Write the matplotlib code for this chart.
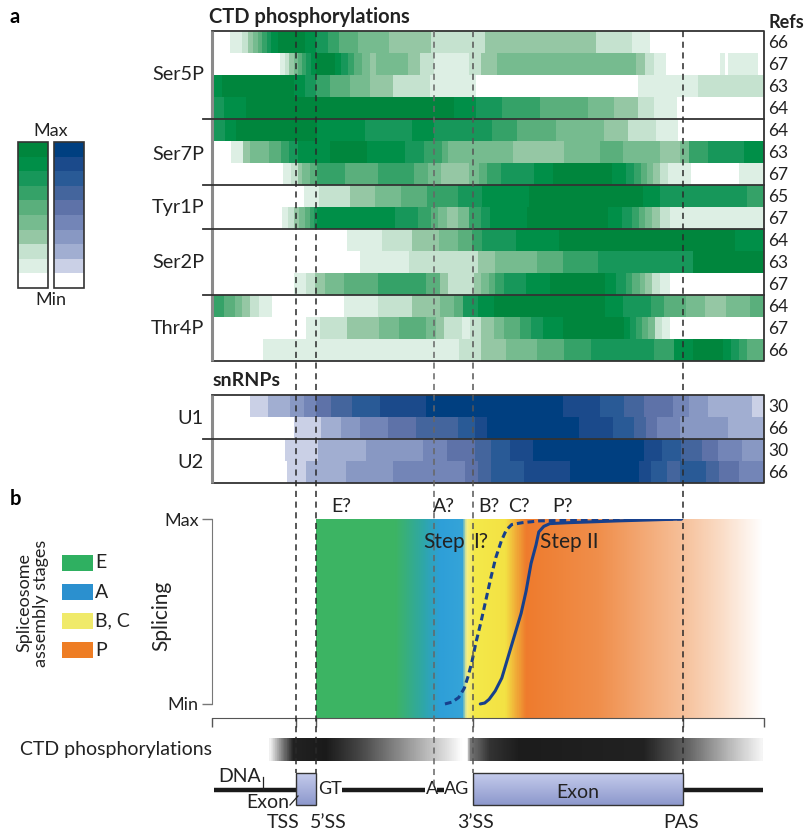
import numpy as np
import matplotlib
matplotlib.use('Agg')
import matplotlib.pyplot as plt
from matplotlib.colors import ListedColormap, LinearSegmentedColormap
from matplotlib.patches import Rectangle

plt.rcParams['font.family'] = ['Lato', 'DejaVu Sans']

W, H = 807, 831
X0, X1 = 212, 764
S = (X1 - X0) / 100.0


def P(x):
    # pixel column -> gene position (0..100 over the heat map width)
    return (x - X0) / S


# ---- landmarks along the gene (0..100)
TSS, SS5, BRANCH_A, SS3, PAS = 15.2, 18.9, 40.2, 47.2, 85.3

# ---- CTD phosphorylation rows (edges along the gene, level 0..9)
ser5p_66_e = [0, 3.2, 5.4, 6.6, 7.4, 8.3, 9.0, 9.9, 10.6, 11.9, 16.8, 18.9, 21.0, 23.0, 26.5, 32.1, 39.7, 49.4, 69.5, 76.1, 79.4, 100]
ser5p_66_l = [0, 1, 2, 3, 4, 5, 6, 7, 8, 9, 8, 7, 6, 5, 4, 3, 2, 3, 2, 1, 0]
ser5p_67_e = [0, 12.3, 13.2, 14.0, 14.8, 15.5, 16.3, 17.1, 17.9, 18.9, 22.3, 23.4, 24.7, 25.7, 27.1, 28.7, 29.7, 35.5, 37.7, 40.2,
              46.6, 48.8, 51.6, 76.8, 78.5, 80.1, 82.3, 92.1, 93.0, 93.5, 99.0, 100]
ser5p_67_l = [0, 1, 2, 3, 4, 5, 6, 7, 8, 9, 8, 7, 6, 5, 4, 3, 4, 3, 2, 1, 2, 3, 4, 3, 2, 1, 0, 1, 0, 1, 0]
ser5p_63_e = [0, 1.9, 14.8, 16.8, 18.9, 21.4, 25.0, 28.6, 32.8, 39.5, 47.8, 77.1, 88.1, 100]
ser5p_63_l = [8, 9, 8, 7, 6, 5, 4, 3, 2, 1, 0, 1, 2]
ser5p_64_e = [0, 2.1, 6.1, 43.9, 47.8, 52.6, 59.5, 68.2, 72.8, 77.1, 80.0, 84.2, 100]
ser5p_64_l = [7, 8, 9, 8, 7, 6, 5, 4, 3, 2, 1, 0]

ser7p_64_e = [0, 2.3, 4.4, 19.0, 27.7, 36.3, 40.2, 50.8, 55.3, 62.3, 71.0, 75.4, 80.5, 84.4, 100]
ser7p_64_l = [7, 8, 9, 8, 7, 8, 7, 6, 5, 4, 3, 2, 1, 0]
ser7p_63_e = [0, 3.5, 5.7, 6.8, 10.3, 12.5, 13.9, 15.5, 21.3, 28.1, 35.0, 38.4, 41.6, 42.8, 54.6, 63.7, 70.3, 74.5, 81.1, 84.8,
              86.5, 89.8, 96.3, 100]
ser7p_63_l = [0, 1, 3, 4, 5, 6, 7, 8, 9, 8, 7, 6, 5, 4, 3, 4, 5, 4, 3, 4, 6, 7, 8]
ser7p_67_e = [0, 12.8, 14.4, 15.5, 16.3, 17.7, 19.0, 24.1, 30.0, 36.6, 39.2, 41.5, 46.6, 48.3, 49.9, 52.3, 58.4, 61.8, 72.4, 75.0,
              76.5, 77.7, 78.8, 79.9, 81.1, 82.6, 86.8, 95.5, 100]
ser7p_67_l = [0, 1, 2, 3, 4, 5, 6, 5, 6, 5, 4, 3, 4, 5, 6, 7, 8, 9, 8, 7, 6, 5, 4, 3, 2, 1, 0, 1]

tyr1p_65_e = [0, 16.6, 19.4, 25.0, 29.5, 34.3, 39.0, 44.6, 49.0, 57.5, 78.1, 81.1, 97.0, 100]
tyr1p_65_l = [0, 1, 2, 3, 4, 5, 6, 7, 8, 9, 8, 7, 6]
tyr1p_67_e = [0, 12.6, 13.7, 14.8, 15.8, 16.8, 17.7, 18.5, 19.0, 33.1, 37.3, 39.7, 41.0, 42.5, 44.6, 46.5, 48.8, 50.3, 57.0, 71.7,
              74.2, 76.0, 77.3, 78.4, 79.8, 81.1, 83.0, 100]
tyr1p_67_l = [0, 1, 2, 3, 4, 5, 6, 7, 8, 7, 6, 5, 4, 3, 4, 6, 7, 8, 9, 8, 7, 6, 5, 4, 3, 2, 1]

ser2p_64_e = [0, 24.5, 30.8, 36.3, 41.2, 44.5, 47.1, 49.0, 55.0, 62.9, 94.8, 100]
ser2p_64_l = [0, 1, 2, 3, 4, 5, 6, 7, 8, 9, 8]
ser2p_63_e = [0, 26.8, 35.7, 48.1, 51.3, 58.9, 63.5, 70.0, 87.1, 100]
ser2p_63_l = [0, 1, 2, 3, 4, 5, 6, 7, 9]
ser2p_67_e = [0, 14.8, 17.1, 18.7, 20.5, 23.9, 30.0, 38.7, 41.3, 42.8, 47.4, 48.7, 50.1, 51.3, 52.9, 56.8, 61.3, 71.2, 73.2, 75.0,
              76.0, 77.6, 78.5, 79.7, 81.1, 83.0, 100]
ser2p_67_l = [0, 1, 2, 3, 4, 5, 6, 5, 3, 2, 3, 4, 5, 6, 7, 8, 9, 8, 7, 6, 5, 4, 3, 2, 1, 0]

thr4p_64_e = [0, 2.1, 4.2, 5.5, 6.8, 8.6, 10.8, 23.9, 30.0, 36.3, 41.3, 43.9, 45.4, 48.2, 51.0, 71.2, 74.5, 79.5, 81.9, 85.9,
              89.4, 93.2, 97.4, 100]
thr4p_64_l = [6, 5, 4, 3, 2, 1, 0, 1, 2, 3, 4, 5, 7, 8, 9, 8, 7, 6, 5, 4, 3, 4, 5]
thr4p_67_e = [0, 17.0, 19.5, 24.5, 30.3, 33.9, 38.7, 40.6, 42.1, 45.2, 46.8, 48.8, 51.0, 52.9, 55.8, 57.7, 60.0, 63.5, 74.6, 75.8,
              76.9, 77.9, 78.9, 80.2, 81.5, 82.9, 100]
thr4p_67_l = [0, 1, 2, 3, 4, 5, 4, 3, 2, 1, 2, 3, 4, 5, 6, 7, 8, 9, 8, 7, 6, 5, 4, 2, 1, 0]
thr4p_66_e = [0, 9.2, 44.8, 48.8, 53.2, 58.9, 63.7, 68.7, 80.0, 83.7, 87.1, 92.6, 94.0, 95.5, 97.0, 100]
thr4p_66_l = [0, 1, 2, 3, 4, 5, 6, 7, 6, 8, 9, 8, 7, 6, 5]

ctd_groups = ['Ser5P', 'Ser7P', 'Tyr1P', 'Ser2P', 'Thr4P']
ctd_group_rows = [4, 3, 2, 3, 3]
ctd_refs = ['66', '67', '63', '64', '64', '63', '67', '65', '67', '64', '63', '67', '64', '67', '66']

# ---- snRNP rows
u1_30_e = [0, 6.8, 10.1, 14.2, 16.6, 18.9, 21.5, 25.4, 30.5, 38.7, 63.5, 70.2, 74.6, 78.3, 83.5, 86.5, 89.9, 97.9, 100]
u1_30_l = [0, 1, 2, 3, 4, 5, 6, 7, 8, 9, 8, 7, 6, 5, 4, 3, 2, 1]
u1_66_e = [0, 14.8, 19.7, 23.4, 26.8, 31.8, 37.0, 44.6, 47.7, 49.9, 66.5, 72.6, 76.5, 78.7, 80.6, 84.7, 93.4, 100]
u1_66_l = [0, 1, 2, 3, 4, 5, 6, 7, 8, 9, 8, 7, 6, 5, 4, 3, 2]
u2_30_e = [0, 13.2, 19.2, 27.9, 38.3, 42.5, 47.7, 50.5, 53.9, 58.1, 78.3, 81.5, 85.0, 88.8, 91.7, 96.1, 100]
u2_30_l = [0, 1, 2, 3, 4, 5, 6, 7, 8, 9, 8, 7, 6, 5, 4, 3]
u2_66_e = [0, 13.5, 17.1, 24.2, 32.8, 45.8, 48.2, 50.5, 56.5, 64.8, 77.4, 79.5, 82.5, 84.8, 89.5, 91.9, 95.4, 100]
u2_66_l = [0, 1, 2, 3, 4, 5, 6, 7, 8, 9, 8, 7, 6, 7, 6, 5, 4]

snrnp_groups = ['U1', 'U2']
snrnp_group_rows = [2, 2]
snrnp_refs = ['30', '66', '30', '66']

# ---- splicing curves (gene position, fraction between Min and Max)
step1_x = [42.2, 43.5, 44.7, 45.7, 46.4, 47.1, 47.8, 48.7, 49.6, 50.5, 51.4, 52.4, 53.3, 54.3, 56.2, 59.4, 70.3, 85.1]
step1_y = [0.0, 0.01, 0.035, 0.085, 0.15, 0.23, 0.33, 0.44, 0.56, 0.68, 0.79, 0.88, 0.94, 0.97, 0.98, 0.99, 0.995, 1.0]
step2_x = [48.6, 49.4, 50.2, 51.3, 52.5, 53.6, 54.9, 56.0, 56.9, 57.8, 58.7, 59.2, 60.1, 61.2, 64.5, 73.7, 85.1]
step2_y = [0.0, 0.005, 0.025, 0.07, 0.14, 0.25, 0.38, 0.49, 0.61, 0.76, 0.86, 0.93, 0.96, 0.975, 0.98, 0.99, 1.0]

stage_names = ['E', 'A', 'B, C', 'P']
stage_colors = ['#2fb061', '#2b90cf', '#f0ea6a', '#ee7d24']

# ---- colours
green_levels = ['#ffffff', '#ddefe4', '#c5e2cf', '#95c7a4', '#76bb8f', '#5aaf7c', '#35a268', '#17975a', '#008f48', '#00863d']
blue_levels = ['#ffffff', '#cad0e6', '#a1aed1', '#8898c3', '#7385b7', '#5e72a8', '#44659d', '#295a96', '#1b4a8b', '#003f80']
green_cmap = ListedColormap(green_levels)
blue_cmap = ListedColormap(blue_levels)

L = X1 - 316.0
stage_cmap = LinearSegmentedColormap.from_list('stages', [
    (0.0, '#3cb563'), ((395 - 316) / L, '#3db464'), ((422 - 316) / L, '#2fa7a6'), ((440 - 316) / L, '#2e9fd8'),
    ((462 - 316) / L, '#35a4d8'), ((466 - 316) / L, '#f6f08a'), ((474 - 316) / L, '#f4e94a'), ((505 - 316) / L, '#f3e244'),
    ((526 - 316) / L, '#ee7b2d'), ((600 - 316) / L, '#f08f4c'), ((682 - 316) / L, '#f6bf98'), ((722 - 316) / L, '#fadcc6'),
    (1.0, '#ffffff')])
Lc = 763 - 269.0
ctd_cmap = LinearSegmentedColormap.from_list('ctd', [
    (0.0, '#f0f0f0'), ((280 - 269) / Lc, '#8a8a8a'), ((292 - 269) / Lc, '#222222'), ((325 - 269) / Lc, '#1a1a1a'),
    ((360 - 269) / Lc, '#474747'), ((400 - 269) / Lc, '#8c8c8c'), ((440 - 269) / Lc, '#d2d2d2'), ((462 - 269) / Lc, '#ffffff'),
    ((468 - 269) / Lc, '#ffffff'), ((469 - 269) / Lc, '#7a7a7a'), ((490 - 269) / Lc, '#333333'), ((520 - 269) / Lc, '#1c1c1c'),
    ((645 - 269) / Lc, '#222222'), ((690 - 269) / Lc, '#666666'), ((730 - 269) / Lc, '#b8b8b8'), (1.0, '#f5f5f5')])
exon_cmap = LinearSegmentedColormap.from_list('exon', ['#c4cbec', '#8d98cc'])

TXT = '#222222'
FS = 14
ROW_H = 22

fig = plt.figure(figsize=(W / 100, H / 100), dpi=100)
axb = fig.add_axes([X0 / W, 1 - 718 / H, (X1 - X0) / W, (718 - 519) / H], facecolor='none')
ax = fig.add_axes([0, 0, 1, 1], facecolor='none')


def heat(rows, top, cmap, groups, sizes, refs, label_y):
    for i, (e, l) in enumerate(rows):
        y0 = top + i * ROW_H
        ax.pcolormesh(e, [y0, y0 + ROW_H], [l], cmap=cmap, vmin=-0.5, vmax=9.5,
                      shading='flat', antialiased=False, linewidth=0, zorder=1)
        ax.text(P(768), y0 + ROW_H / 2 + 1, refs[i], fontsize=12.5, color=TXT, ha='left', va='center')
    bottom = top + len(rows) * ROW_H
    ax.plot([0, 100, 100, 0], [top, top, bottom, bottom], color='#333333', lw=1.3, zorder=3)
    ax.plot([0, 0], [top, bottom], color='#8a8a8a', lw=2.2, zorder=3, solid_capstyle='butt')
    y = top
    for g, n, ly in zip(groups, sizes, label_y):
        if y > top:
            ax.plot([P(203), 100], [y, y], color='#333333', lw=1.3, zorder=3)
        ax.text(P(204), ly, g, fontsize=14.3, color=TXT, ha='right', va='center')
        y += n * ROW_H


ctd_rows = [(ser5p_66_e, ser5p_66_l), (ser5p_67_e, ser5p_67_l), (ser5p_63_e, ser5p_63_l), (ser5p_64_e, ser5p_64_l),
            (ser7p_64_e, ser7p_64_l), (ser7p_63_e, ser7p_63_l), (ser7p_67_e, ser7p_67_l),
            (tyr1p_65_e, tyr1p_65_l), (tyr1p_67_e, tyr1p_67_l),
            (ser2p_64_e, ser2p_64_l), (ser2p_63_e, ser2p_63_l), (ser2p_67_e, ser2p_67_l),
            (thr4p_64_e, thr4p_64_l), (thr4p_67_e, thr4p_67_l), (thr4p_66_e, thr4p_66_l)]
heat(ctd_rows, 31, green_cmap, ctd_groups, ctd_group_rows, ctd_refs, [75, 155, 208, 263, 328])

snrnp_rows = [(u1_30_e, u1_30_l), (u1_66_e, u1_66_l), (u2_30_e, u2_30_l), (u2_66_e, u2_66_l)]
heat(snrnp_rows, 395, blue_cmap, snrnp_groups, snrnp_group_rows, snrnp_refs, [419, 462])

# titles
ax.text(P(10), 17, 'a', fontsize=14.5, fontweight='bold', color='black', ha='left', va='center')
ax.text(P(10), 499, 'b', fontsize=14.5, fontweight='bold', color='black', ha='left', va='center')
ax.text(P(209), 17, 'CTD phosphorylations', fontsize=14.5, fontweight='bold', color=TXT, ha='left', va='center')
ax.text(P(769), 22, 'Refs', fontsize=13, fontweight='bold', color=TXT, ha='left', va='center')
ax.text(P(213), 381, 'snRNPs', fontsize=14, fontweight='bold', color=TXT, ha='left', va='center')

# colour scale legend (top left)
cell = (288 - 142) / 10.0
for col, (xl, levels) in enumerate([(18, green_levels), (54, blue_levels)]):
    for k in range(10):
        lev = 9 - k
        ax.add_patch(Rectangle((P(xl), 142 + k * cell), P(xl + 30) - P(xl), cell,
                               facecolor=levels[lev], edgecolor='none', zorder=2))
    ax.add_patch(Rectangle((P(xl), 142), P(xl + 30) - P(xl), 146, facecolor='none',
                           edgecolor='#333333', lw=1.2, zorder=3))
ax.text(P(51), 131, 'Max', fontsize=13, color=TXT, ha='center', va='center')
ax.text(P(51), 300, 'Min', fontsize=13, color=TXT, ha='center', va='center')

# ---- panel b
axb.imshow(np.linspace(0, 1, 800)[None, :], cmap=stage_cmap, extent=(SS5, 100, -0.076, 1.0),
           aspect='auto', zorder=1, interpolation='bilinear')
axb.plot(step1_x, step1_y, color='#17408c', lw=2.2, ls=(0, (2.2, 1.3)), zorder=3)
axb.plot(step2_x, step2_y, color='#17408c', lw=2.2, zorder=3, solid_capstyle='round')
axb.set_xlim(0, 100)
axb.set_ylim(-0.076, 1.0)
for sp in ['top', 'right']:
    axb.spines[sp].set_visible(False)
axb.spines['left'].set_bounds(0, 1)
axb.spines['left'].set_color('#777777')
axb.spines['bottom'].set_color('#555555')
axb.set_yticks([0, 1])
axb.set_yticklabels(['Min', 'Max'])
axb.set_xticks([0, TSS, SS5, SS3, PAS, 100])
axb.set_xticklabels([])
axb.tick_params(axis='y', length=7.5, width=1, color='#777777', labelsize=13, labelcolor=TXT, pad=2)
axb.tick_params(axis='x', length=6.5, width=1, color='#555555')

for xs, lab in zip([P(331), P(433), P(478), P(508), P(552)], ['E?', 'A?', 'B?', 'C?', 'P?']):
    ax.text(xs, 507, lab, fontsize=FS, color=TXT, ha='left', va='center')
ax.text(P(423), 542, 'Step', fontsize=15, color=TXT, ha='left', va='center', zorder=5)
ax.text(P(473), 542, 'I?', fontsize=15, color=TXT, ha='left', va='center', zorder=5)
ax.text(P(540), 542, 'Step II', fontsize=15, color=TXT, ha='left', va='center', zorder=5)
ax.text(P(161), 616, 'Splicing', fontsize=15, color=TXT, rotation=90, ha='center', va='center')
ax.text(P(33), 603, 'Spliceosome\nassembly stages', fontsize=13, color=TXT, rotation=90,
        ha='center', va='center', multialignment='center', linespacing=1.05)
for k, (nm, c) in enumerate(zip(stage_names, stage_colors)):
    yy = 555 + k * 29
    ax.add_patch(Rectangle((P(62), yy), P(93) - P(62), 16, facecolor=c, edgecolor='none'))
    ax.text(P(95), yy + 8, nm, fontsize=FS, color=TXT, ha='left', va='center')

# dashed landmark lines
for xl, yend, col in [(TSS, 773, '#2a2a2a'), (SS5, 773, '#2a2a2a'), (BRANCH_A, 786, '#666666'),
                      (SS3, 773, '#555555'), (PAS, 773, '#2a2a2a')]:
    ax.plot([xl, xl], [31, yend], color=col, lw=1.1, ls=(0, (4, 3)), zorder=4)

# ---- bottom gene diagram
ax.text(P(212), 749, 'CTD phosphorylations', fontsize=FS, color=TXT, ha='right', va='center')
ax.imshow(np.linspace(0, 1, 800)[None, :], cmap=ctd_cmap, extent=(P(269), P(763), 761, 738),
          aspect='auto', zorder=2, interpolation='bilinear')

dna_y = 790
for a, b in [(214, 296), (342, 425), (437, 444), (682, 763)]:
    ax.plot([P(a), P(b)], [dna_y, dna_y], color='#1a1a1a', lw=3.2, solid_capstyle='butt', zorder=2)
for a, b in [(TSS, SS5), (SS3, PAS)]:
    ax.imshow(np.linspace(0, 1, 50)[:, None], cmap=exon_cmap, extent=(a, b, 805, 773),
              aspect='auto', zorder=3, interpolation='bilinear')
    ax.add_patch(Rectangle((a, 773), b - a, 32, facecolor='none', edgecolor='#333333', lw=1.0, zorder=4))
ax.text((SS3 + PAS) / 2, 792, 'Exon', fontsize=FS, color=TXT, ha='center', va='center', zorder=5)
ax.text(P(318), 789, 'GT', fontsize=13, color=TXT, ha='left', va='center')
ax.text(P(426), 789, 'A', fontsize=13, color=TXT, ha='left', va='center')
ax.text(P(444), 789, 'AG', fontsize=13, color=TXT, ha='left', va='center')
ax.text(P(218), 777, 'DNA', fontsize=FS, color=TXT, ha='left', va='center')
ax.plot([P(263), P(263)], [777, 789], color=TXT, lw=0.9)
ax.text(P(246), 803, 'Exon', fontsize=FS, color=TXT, ha='left', va='center')
ax.plot([P(290), P(298)], [805, 796], color=TXT, lw=0.9, zorder=5)
for xc, lab in [(283, 'TSS'), (328, '5’SS'), (476, '3’SS'), (681, 'PAS')]:
    ax.text(P(xc), 822, lab, fontsize=FS, color=TXT, ha='center', va='center')

ax.set_xlim(P(0), P(W))
ax.set_ylim(H, 0)
ax.axis('off')
fig.savefig('out.png', dpi=100)
